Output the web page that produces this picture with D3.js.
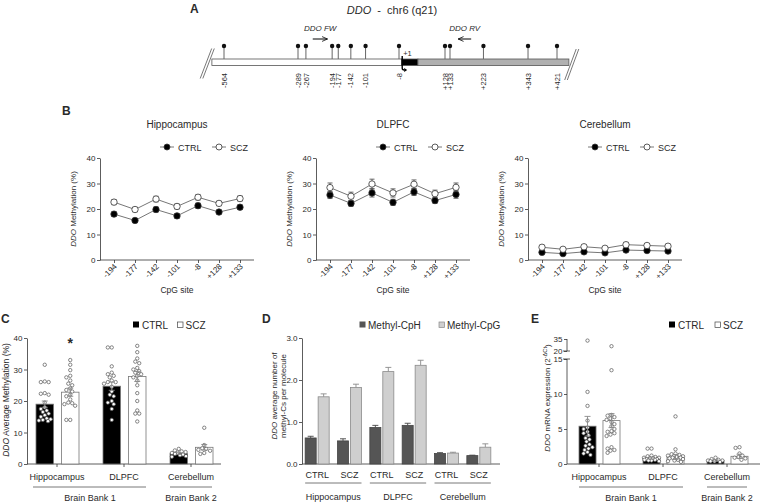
<!DOCTYPE html>
<html><head><meta charset="utf-8">
<script src="https://cdn.jsdelivr.net/npm/d3@7"></script>
<style>
body{margin:0;background:#fff}
svg{display:block}
text{font-family:"Liberation Sans",Arial,sans-serif;fill:#2a2a2a}
</style>
</head><body>
<svg id="chart" width="760" height="503"></svg>
<script>
// ---------------- DATA ----------------
// Panel A: gene schematic
const cpgPositions = [-564,-289,-267,-194,-177,-142,-101,-8,128,133,223,343,421];
const cpgLabels = ["-564","-289","-267","-194","-177","-142","-101","-8","+128","+133","+223","+343","+421"];
const segStart = [-609, 0, 48];
const segEnd = [0, 48, 453];
const segType = ["upstream","exon","downstream"];
const primerNames = ["DDO FW","DDO RV"];
const primerFrom = [-248, 190];
const primerTo = [-207, 155];

// Panel B: methylation per CpG site
const sites = ["-194","-177","-142","-101","-8","+128","+133"];
const regions = ["Hippocampus","DLPFC","Cerebellum"];
const bCtrl = {
  Hippocampus:[18.0,15.5,19.8,17.3,21.3,18.8,20.7],
  DLPFC:[25.5,22.2,26.3,22.6,26.7,23.3,25.7],
  Cerebellum:[3.0,2.5,3.2,2.8,3.9,3.7,3.5]
};
const bCtrlErr = {
  Hippocampus:[0.9,0.8,1.0,0.8,1.0,0.7,0.9],
  DLPFC:[1.4,1.1,1.6,1.2,1.4,1.1,1.5],
  Cerebellum:[0.4,0.3,0.4,0.3,0.5,0.4,0.4]
};
const bScz = {
  Hippocampus:[22.7,19.8,23.9,21.0,24.6,22.2,24.1],
  DLPFC:[28.4,25.0,29.8,26.3,29.7,26.0,28.5],
  Cerebellum:[5.0,4.2,5.2,4.6,6.0,5.7,5.4]
};
const bSczErr = {
  Hippocampus:[1.0,0.9,1.1,1.0,1.1,0.9,1.0],
  DLPFC:[1.8,1.6,1.9,1.6,1.7,1.4,1.7],
  Cerebellum:[0.8,0.6,0.8,0.7,0.9,0.8,0.8]
};

// Panel C: average methylation
const groups = ["CTRL","SCZ"];
const cMean = {CTRL:[19.0,24.7,3.3], SCZ:[22.8,27.8,5.3]};
const cSem = {CTRL:[1.0,1.3,0.3], SCZ:[1.3,1.6,0.9]};
const cPtsHippoCtrl = [31.5,26,26,26.2,22.5,22,22.3,19.5,18,17.5,17,16.5,16,15.5,15,14.5,14,13.8,13.6,14.2];
const cPtsHippoScz = [33,31.5,29.8,28,27.5,26.5,25.5,25,24,23.5,23,22,21.5,20.5,19.5,19.3,19,18.5,14,14];
const cPtsDlpfcCtrl = [37,37,31,29,28.5,28,27.5,26.5,26,26,25.5,24.5,23,22,21.5,20,19.5,19,17.5,14];
const cPtsDlpfcScz = [37.5,35.5,33.5,32.5,32,30.5,30,29.5,29,28.5,28,27.5,26.5,25,22.5,20,17,16,16,13.5];
const cPtsCerebCtrl = [4.8,4.3,4.0,3.8,3.6,3.5,3.2,3.0,2.8,2.5,2.3];
const cPtsCerebScz = [11.5,6.0,5.0,4.8,4.5,4.2,3.5,3.2];

// Panel D: methyl-Cs per molecule
const dGroups = ["Hippocampus CTRL","Hippocampus SCZ","DLPFC CTRL","DLPFC SCZ","Cerebellum CTRL","Cerebellum SCZ"];
const dTickLabels = ["CTRL","SCZ","CTRL","SCZ","CTRL","SCZ"];
const dSeries = ["Methyl-CpH","Methyl-CpG"];
const dCpH = [0.62,0.55,0.87,0.92,0.25,0.20];
const dCpHErr = [0.04,0.05,0.05,0.05,0.02,0.01];
const dCpG = [1.60,1.82,2.20,2.35,0.26,0.40];
const dCpGErr = [0.07,0.08,0.10,0.12,0.02,0.08];

// Panel E: mRNA expression
const eMean = {CTRL:[5.4,0.85,0.5], SCZ:[6.2,1.0,1.1]};
const eSem = {CTRL:[1.4,0.15,0.1], SCZ:[1.0,0.35,0.3]};
const ePtsHippoCtrl = [33,10.3,8.3,6.2,5.2,5.0,4.6,4.4,4.1,3.7,3.5,3.2,2.8,2.6,2.4,2.2,2.0,1.7,1.3,1.5];
const ePtsHippoScz = [26,13.4,7.0,6.9,6.7,6.5,6.3,6.0,5.7,5.4,5.0,4.7,4.4,4.2,4.0,2.4,2.2,1.9,1.6,2.0,4.6];
const ePtsDlpfcCtrl = [2.2,2.2,1.2,1.1,1.0,0.9,0.9,0.8,0.7,0.6,0.5,0.4,0.6,0.7,0.8,0.5];
const ePtsDlpfcScz = [6.8,2.1,1.5,1.4,1.3,1.2,1.1,1.0,0.9,0.8,0.7,0.6,0.5,0.4,0.3,0.9];
const ePtsCerebCtrl = [0.9,0.7,0.6,0.5,0.5,0.4,0.3,0.4];
const ePtsCerebScz = [2.3,2.4,1.5,1.2,1.0,0.8,0.6,0.9];
const yTicksB = [0,10,20,30,40];
const yTicksC = [0,10,20,30,40];
const yTicksD = [0,1,2,3];
const yTicksE = [0,5,10,15,20,35];

// ---------------- DRAW ----------------
const svg = d3.select("#chart");
const AX = "#333";

function letter(t,x,y){
  svg.append("text").attr("x",x).attr("y",y).attr("font-size",12).attr("font-weight","bold").attr("fill","#111").text(t);
}
function yAxis(scale,x,ticks,drawDomain=true){
  const a = svg.append("g").attr("transform",`translate(${x},0)`)
    .call(d3.axisLeft(scale).tickValues(ticks).tickSize(3).tickSizeOuter(0).tickPadding(1.5));
  a.select(".domain").attr("stroke",AX).attr("stroke-width",0.8);
  if(!drawDomain) a.select(".domain").remove();
  a.selectAll(".tick line").attr("stroke",AX).attr("stroke-width",0.8);
  a.selectAll("text").attr("font-size",8).attr("font-family","Liberation Sans, Arial, sans-serif").attr("fill","#333");
  return a;
}
function hline(x1,x2,y,c=AX,w=0.8){
  svg.append("line").attr("x1",x1).attr("x2",x2).attr("y1",y).attr("y2",y).attr("stroke",c).attr("stroke-width",w);
}
function vline(x,y1,y2,c=AX,w=0.8){
  svg.append("line").attr("x1",x).attr("x2",x).attr("y1",y1).attr("y2",y2).attr("stroke",c).attr("stroke-width",w);
}
function label(t,x,y,size,anchor="middle",extra){
  const tx = svg.append("text").attr("x",x).attr("y",y).attr("font-size",size).attr("text-anchor",anchor).text(t);
  if(extra) extra(tx);
  return tx;
}
function italicLabel(parts,x,y,size,rotate){
  const t = svg.append("text").attr("font-size",size).attr("text-anchor","middle")
     .attr("transform",`translate(${x},${y}) rotate(${rotate||0})`);
  parts.forEach(p=>{
    const s = t.append("tspan").text(p.t);
    if(p.i) s.attr("font-style","italic");
    if(p.sup) s.attr("baseline-shift","super").attr("font-size",size*0.7);
  });
  return t;
}
function swarm(values,y,cx,r,maxOff){
  const placed=[];
  const order = values.map((v,i)=>i).sort((a,b)=>values[b]-values[a]);
  const step = r*1.15;
  const minD = 2*r+0.2;
  for(const i of order){
    const py = y(values[i]);
    let best=null;
    for(let k=0;k<=40 && best===null;k++){
      const cands = k===0?[0]:(k%2? [k*step/2,-k*step/2] : [-k*step/2,k*step/2]);
      for(const off of cands){
        if(Math.abs(off)>maxOff) continue;
        if(placed.every(p=>(p.x-(cx+off))**2+(p.y-py)**2>=minD*minD)){best=off;break;}
      }
    }
    if(best===null){
      let bd=-1;
      for(let off=-maxOff;off<=maxOff;off+=0.5){
        const md = d3.min(placed,p=>Math.hypot(p.x-(cx+off),p.y-py));
        if(md>bd){bd=md;best=off;}
      }
    }
    placed.push({x:cx+best,y:py});
  }
  return placed;
}
function drawPoints(pts){
  svg.append("g").selectAll("circle").data(pts).join("circle")
    .attr("cx",d=>d.x).attr("cy",d=>d.y).attr("r",1.7)
    .attr("fill","#fff").attr("stroke","#555").attr("stroke-width",0.7);
}

// ===== Panel A =====
letter("A",190,13);
italicLabel([{t:"DDO",i:true},{t:"\u00a0\u00a0-\u00a0\u00a0chr6 (q21)"}],392,14,11,0);
// schematic, not drawn to scale: piecewise linear positions
const xA = d3.scaleLinear().domain([-564,-289,-8,128,133,421]).range([224,298,399,445,450,557]);
const barTop=59, barH=6.5;
const segFill = {upstream:"#fff",exon:"#000",downstream:"#b0b0b0"};
svg.append("g").selectAll("rect").data(segType).join("rect")
  .attr("x",(d,i)=>xA(segStart[i])).attr("width",(d,i)=>xA(segEnd[i])-xA(segStart[i]))
  .attr("y",barTop).attr("height",barH)
  .attr("fill",d=>segFill[d]).attr("stroke","#555").attr("stroke-width",0.8);
const lol = svg.append("g").selectAll("g").data(cpgPositions).join("g");
lol.append("line").attr("x1",d=>xA(d)).attr("x2",d=>xA(d)).attr("y1",46).attr("y2",barTop)
  .attr("stroke","#666").attr("stroke-width",1);
lol.append("circle").attr("cx",d=>xA(d)).attr("cy",46).attr("r",2.2).attr("fill","#111");
lol.append("text").attr("font-size",7.5).attr("text-anchor","end").attr("dy","0.35em")
  .attr("transform",d=>`translate(${xA(d)},73) rotate(-90)`).text((d,i)=>cpgLabels[i]);
label("+1",xA(0)+1.5,56,7.5,"start");
const tssX = xA(0)+0.5;
svg.append("path").attr("d",`M${tssX},${barTop-3} V${barTop+barH+2.5} Q${tssX},${barTop+barH+4.5} ${tssX+2},${barTop+barH+4.5}`)
  .attr("fill","none").attr("stroke","#000").attr("stroke-width",1.4);
svg.append("path").attr("d",`M${tssX+5},${barTop+barH+4.5} l-3,-2 v4 z`).attr("fill","#000");
// slashes
[[201.5,78.5,213,48.5],[566,80,577.5,49]].forEach(s=>{
  [-1.3,1.3].forEach(o=>{
    svg.append("line").attr("x1",s[0]+o).attr("y1",s[1]).attr("x2",s[2]+o).attr("y2",s[3])
      .attr("stroke","#555").attr("stroke-width",0.8);
  });
});
// primers
svg.append("defs").append("marker").attr("id","ah").attr("viewBox","0 0 10 10").attr("refX",9).attr("refY",5)
  .attr("markerWidth",6).attr("markerHeight",6).attr("orient","auto")
  .append("path").attr("d","M0,1 L9,5 L0,9").attr("fill","none").attr("stroke","#000").attr("stroke-width",1.3);
primerNames.forEach((n,i)=>{
  const x1=xA(primerFrom[i]), x2=xA(primerTo[i]);
  svg.append("line").attr("x1",x1).attr("x2",x2).attr("y1",39).attr("y2",39).attr("stroke","#000").attr("stroke-width",1)
    .attr("marker-end","url(#ah)");
  label(n,(x1+x2)/2,31,8,"middle",t=>t.attr("font-style","italic"));
});

// ===== Panel B =====
letter("B",62,115);
const bAxisX = {Hippocampus:100, DLPFC:316, Cerebellum:528};
const yB = d3.scaleLinear().domain([0,40]).range([260,158]);
regions.forEach(reg=>{
  const ax = bAxisX[reg];
  const xB = d3.scalePoint().domain(sites).range([ax+14,ax+140]);
  label(reg,ax+77,128,10);
  const lg = [{g:"CTRL",dx:67,fill:"#000"},{g:"SCZ",dx:119,fill:"#fff"}];
  lg.forEach(l=>{
    hline(ax+l.dx-7,ax+l.dx+7,147,"#555",0.8);
    svg.append("circle").attr("cx",ax+l.dx).attr("cy",147).attr("r",3).attr("fill",l.fill).attr("stroke","#333").attr("stroke-width",0.8);
    label(l.g,ax+l.dx+11,150.5,9,"start");
  });
  yAxis(yB,ax,yTicksB);
  hline(ax,ax+154,260);
  const xa = svg.append("g").attr("transform","translate(0,260)")
    .call(d3.axisBottom(xB).tickSize(3).tickSizeOuter(0));
  xa.select(".domain").remove();
  xa.selectAll(".tick line").attr("stroke",AX).attr("stroke-width",0.8);
  xa.selectAll("text").attr("font-size",8).attr("fill","#333").attr("text-anchor","end")
    .attr("dy",0).attr("y",0).attr("transform","translate(3,7) rotate(-45)");
  label("CpG site",ax+77,293,8.5);
  italicLabel([{t:"DDO",i:true},{t:" Methylation (%)"}],ax-24,209,8,-90);
  const series = [{v:bCtrl[reg],e:bCtrlErr[reg],fill:"#000"},{v:bScz[reg],e:bSczErr[reg],fill:"#fff"}];
  series.forEach(s=>{
    svg.append("path").datum(s.v).attr("d",d3.line().x((d,i)=>xB(sites[i])).y(d=>yB(d)))
      .attr("fill","none").attr("stroke","#666").attr("stroke-width",0.9);
  });
  series.forEach(s=>{
    const g = svg.append("g");
    s.v.forEach((v,i)=>{
      const x = xB(sites[i]);
      g.append("path").attr("d",`M${x-2.5},${yB(v+s.e[i])}H${x+2.5}M${x},${yB(v+s.e[i])}V${yB(v-s.e[i])}M${x-2.5},${yB(v-s.e[i])}H${x+2.5}`)
        .attr("stroke","#444").attr("stroke-width",0.8).attr("fill","none");
    });
    g.selectAll("circle").data(s.v).join("circle").attr("cx",(d,i)=>xB(sites[i])).attr("cy",d=>yB(d))
      .attr("r",3.2).attr("fill",s.fill).attr("stroke","#333").attr("stroke-width",0.8);
  });
});

// ===== Panel C =====
letter("C",1,323);
const yC = d3.scaleLinear().domain([0,40]).range([464,338]);
const xC = d3.scaleBand().domain(regions).range([23.5,224.5]);
const subC = d3.scaleBand().domain(groups).range([-21,22]).paddingInner(0.314);
const grpFill = {CTRL:"#000", SCZ:"#fff"};
yAxis(yC,27,yTicksC);
hline(27,221,464);
regions.forEach(r=>vline(xC(r)+xC.bandwidth()/2,464,467));
const cPts = {Hippocampus:{CTRL:cPtsHippoCtrl,SCZ:cPtsHippoScz},DLPFC:{CTRL:cPtsDlpfcCtrl,SCZ:cPtsDlpfcScz},Cerebellum:{CTRL:cPtsCerebCtrl,SCZ:cPtsCerebScz}};
regions.forEach((r,ri)=>{
  groups.forEach(g=>{
    const x0 = xC(r)+xC.bandwidth()/2+subC(g);
    const bw = subC.bandwidth();
    svg.append("rect").attr("x",x0).attr("y",yC(cMean[g][ri])).attr("width",bw).attr("height",yC(0)-yC(cMean[g][ri]))
      .attr("fill",grpFill[g]).attr("stroke","#777").attr("stroke-width",0.8);
    drawPoints(swarm(cPts[r][g],yC,x0+bw/2,1.7,bw/2-1));
    const m=cMean[g][ri], e=cSem[g][ri], cx=x0+bw/2;
    svg.append("path").attr("d",`M${cx-3},${yC(m+e)}H${cx+3}M${cx},${yC(m+e)}V${yC(m-e)}M${cx-3},${yC(m-e)}H${cx+3}`)
      .attr("stroke","#888").attr("stroke-width",0.9).attr("fill","none");
  });
});
label("*",xC("Hippocampus")+xC.bandwidth()/2+subC("SCZ")+subC.bandwidth()/2,348,14,"middle",t=>t.attr("font-weight","bold"));
regions.forEach(r=>label(r,xC(r)+xC.bandwidth()/2,480,9));
hline(33,146,487,"#555");
hline(170,212,487,"#555");
label("Brain Bank 1",90,501,9);
label("Brain Bank 2",191,501,9);
italicLabel([{t:"DDO",i:true},{t:" Average Methylation (%)"}],9,400,8.5,-90);
svg.append("rect").attr("x",133).attr("y",321.5).attr("width",6).attr("height",6).attr("fill","#000");
label("CTRL",142,328.5,10,"start");
svg.append("rect").attr("x",177.5).attr("y",322).attr("width",5.5).attr("height",5.5).attr("fill","#fff").attr("stroke","#444").attr("stroke-width",0.7);
label("SCZ",185.5,328.5,10,"start");

// ===== Panel D =====
letter("D",262,323);
const yD = d3.scaleLinear().domain([0,3]).range([464,338]);
const xD = d3.scaleBand().domain(dGroups).range([301,495]);
const subD = d3.scaleBand().domain(dSeries).range([-12,12]).paddingInner(0.15);
const dFill = {"Methyl-CpH":"#555","Methyl-CpG":"#cfcfcf"};
const dStroke = {"Methyl-CpH":"#444","Methyl-CpG":"#8a8a8a"};
yAxis(yD,302,yTicksD);
hline(302,500,464);
const dVals = {"Methyl-CpH":[dCpH,dCpHErr],"Methyl-CpG":[dCpG,dCpGErr]};
dGroups.forEach((g,gi)=>{
  const c = xD(g)+xD.bandwidth()/2;
  dSeries.forEach(s=>{
    const v = dVals[s][0][gi], e = dVals[s][1][gi];
    const x0 = c+subD(s), bw=subD.bandwidth();
    svg.append("path").attr("d",`M${x0+bw/2},${yD(v)}V${yD(v+e)}M${x0+bw/2-3},${yD(v+e)}H${x0+bw/2+3}`)
      .attr("stroke",dStroke[s]).attr("stroke-width",0.9);
    svg.append("rect").attr("x",x0).attr("y",yD(v)).attr("width",bw).attr("height",yD(0)-yD(v))
      .attr("fill",dFill[s]).attr("stroke",dStroke[s]).attr("stroke-width",0.8);
  });
  label(dTickLabels[gi],c,477.5,9);
});
[["Hippocampus",0,1],["DLPFC",2,3],["Cerebellum",4,5]].forEach(([n,a,b])=>{
  const x1 = xD(dGroups[a])+xD.bandwidth()/2-12, x2 = xD(dGroups[b])+xD.bandwidth()/2+12;
  hline(x1,x2,483,"#555");
  label(n,(x1+x2)/2,500,9);
});
italicLabel([{t:"DDO",i:true},{t:" average number of"}],277,396,8,-90);
italicLabel([{t:"methyl-Cs per molecule"}],286,396,8,-90);
svg.append("rect").attr("x",359.5).attr("y",321.5).attr("width",6).attr("height",6).attr("fill","#555");
label("Methyl-CpH",368,328.5,10,"start");
svg.append("rect").attr("x",439).attr("y",322).attr("width",5.5).attr("height",5.5).attr("fill","#cfcfcf").attr("stroke","#888").attr("stroke-width",0.7);
label("Methyl-CpG",447,328.5,10,"start");

// ===== Panel E =====
letter("E",531,323);
const yE = d3.scaleLinear().domain([0,15,20,35]).range([464,359,351,339]);
const xE = d3.scaleBand().domain(regions).range([567,759]);
const subE = d3.scaleBand().domain(groups).range([-20,21]).paddingInner(0.29);
yAxis(yE,567,yTicksE,false);
vline(567,yE(0),yE(15));
vline(567,yE(20),yE(35));
hline(563,570,yE(20));
hline(563,570,yE(15));
hline(567,760,464);
regions.forEach(r=>vline(xE(r)+xE.bandwidth()/2,464,467));
const ePts = {Hippocampus:{CTRL:ePtsHippoCtrl,SCZ:ePtsHippoScz},DLPFC:{CTRL:ePtsDlpfcCtrl,SCZ:ePtsDlpfcScz},Cerebellum:{CTRL:ePtsCerebCtrl,SCZ:ePtsCerebScz}};
regions.forEach((r,ri)=>{
  groups.forEach(g=>{
    const x0 = xE(r)+xE.bandwidth()/2+subE(g);
    const bw = subE.bandwidth();
    svg.append("rect").attr("x",x0).attr("y",yE(eMean[g][ri])).attr("width",bw).attr("height",yE(0)-yE(eMean[g][ri]))
      .attr("fill",grpFill[g]).attr("stroke","#777").attr("stroke-width",0.8);
    drawPoints(swarm(ePts[r][g],yE,x0+bw/2,1.7,bw/2-1));
    const m=eMean[g][ri], e=eSem[g][ri], cx=x0+bw/2;
    svg.append("path").attr("d",`M${cx-3},${yE(m+e)}H${cx+3}M${cx},${yE(m+e)}V${yE(m-e)}M${cx-3},${yE(m-e)}H${cx+3}`)
      .attr("stroke","#888").attr("stroke-width",0.9).attr("fill","none");
  });
});
regions.forEach(r=>label(r,xE(r)+xE.bandwidth()/2,480,9));
hline(579,683,487,"#555");
hline(707,747,487,"#555");
label("Brain Bank 1",631,501,9);
label("Brain Bank 2",727,501,9);
italicLabel([{t:"DDO",i:true},{t:" mRNA expression (2"},{t:"-ΔCt",sup:true},{t:")"}],550,398,8,-90);
svg.append("rect").attr("x",669).attr("y",321.5).attr("width",6).attr("height",6).attr("fill","#000");
label("CTRL",678,328.5,10,"start");
svg.append("rect").attr("x",715).attr("y",322).attr("width",5.5).attr("height",5.5).attr("fill","#fff").attr("stroke","#444").attr("stroke-width",0.7);
label("SCZ",723,328.5,10,"start");
</script>
</body></html>
